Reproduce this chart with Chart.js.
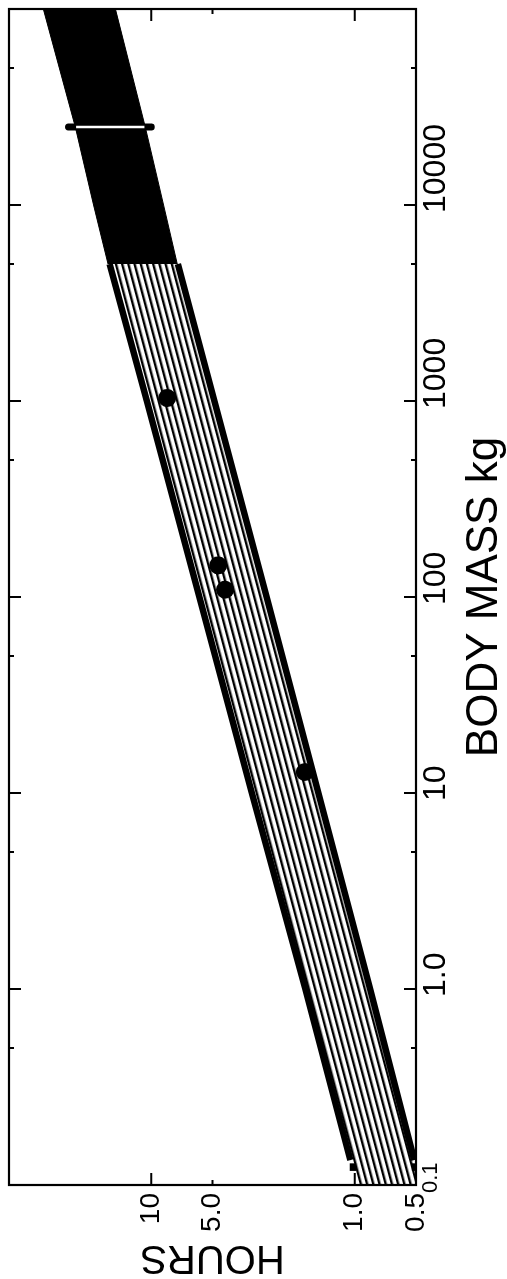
<!DOCTYPE html>
<html><head><meta charset="utf-8">
<script src="https://cdn.jsdelivr.net/npm/chart.js@4.4.1/dist/chart.umd.min.js"></script>
<style>
html,body{margin:0;padding:0;background:#fff;overflow:hidden;width:507px;height:1279px;}
#wrap{position:absolute;left:-386px;top:386px;width:1279px;height:507px;transform:rotate(-90deg);transform-origin:50% 50%;background:#fff;}
canvas{display:block}
</style></head><body>
<div id="wrap"><canvas id="c" width="1279" height="507"></canvas></div>
<script>
// ---- axis ticks ----
const massTicks = [0.1, 1, 10, 100, 1000, 10000];
const massTickLabels = ['0.1', '1.0', '10', '100', '1000', '10000'];
const massMinorMarks = [0.5, 5, 50, 500, 5000, 50000];
const hourTicks = [0.5, 1, 5, 10];
const hourTickLabels = ['0.5', '1.0', '5.0', '10'];
const hourMajorMarks = [1, 10];
const hourMinorMarks = [5];
// ---- hatched band (line centres) ----
const bandMass  = [0.1, 0.134, 1, 10, 100, 1000, 5000];
const bandUpper = [0.97, 1.05, 1.75, 3.2, 5.8, 10.5, 16.0];
const bandLower = [0.475, 0.51, 0.84, 1.51, 2.71, 4.9, 7.4];
// ---- small break dashes at the low end ----
const breakMass  = [0.118, 0.129];
const breakUpper = [1.02, 1.02];
const breakLower = [0.505, 0.505];
// ---- solid black extension ----
const solidMass  = [5000, 10000, 25000, 100000];
const solidUpper = [16.3, 19.2, 23.6, 33.9];
const solidLower = [7.45, 8.7, 10.7, 15.0];
// ---- marker across the solid band ----
const markMass = [25000, 25000];
const markBlack = [10.0, 25.5];
const markWhite = [10.8, 23.4];
// ---- observed points ----
const dotMass  = [12.8, 109, 145, 1036];
const dotHours = [1.76, 4.34, 4.69, 8.35];

const pts = (xs, ys) => xs.map((x, i) => ({x: x, y: ys[i]}));
const TICKFONT = "'Liberation Sans Narrow', 'Liberation Sans', Arial, sans-serif";
const TITLEFONT = "'Liberation Sans', Arial, sans-serif";

const base = {pointRadius: 0, borderColor: '#000', tension: 0, fill: false};

const framePlugin = {
  id: 'frame',
  afterDraw(chart) {
    const {ctx, chartArea: {left, right, top, bottom}, scales: {x, y}} = chart;
    ctx.save();
    ctx.strokeStyle = '#000';
    ctx.lineWidth = 2.2;
    ctx.strokeRect(left, top, right - left, bottom - top);
    ctx.lineWidth = 2;
    ctx.beginPath();
    const xm = (v, len) => { const p = x.getPixelForValue(v); ctx.moveTo(p, bottom); ctx.lineTo(p, bottom - len); ctx.moveTo(p, top); ctx.lineTo(p, top + len); };
    const ym = (v, len) => { const p = y.getPixelForValue(v); ctx.moveTo(left, p); ctx.lineTo(left + len, p); ctx.moveTo(right, p); ctx.lineTo(right - len, p); };
    massTicks.forEach(v => xm(v, 12));
    massMinorMarks.forEach(v => xm(v, 5));
    hourMajorMarks.forEach(v => ym(v, 12));
    hourMinorMarks.forEach(v => ym(v, 5));
    ctx.stroke();
    ctx.restore();
  }
};

const config = {
  type: 'line',
  data: {
    datasets: [
      Object.assign({}, base, {data: pts(bandMass, bandUpper), borderWidth: 0, fill: 1, backgroundColor: '#888', order: 5}),
      Object.assign({}, base, {data: pts(bandMass, bandLower), borderWidth: 0, order: 5}),
      Object.assign({}, base, {data: pts(solidMass, solidUpper), borderWidth: 1, fill: 3, backgroundColor: '#000', order: 6}),
      Object.assign({}, base, {data: pts(solidMass, solidLower), borderWidth: 1, order: 6}),
      Object.assign({}, base, {data: pts(bandMass.slice(1), bandUpper.slice(1)), borderWidth: 6.5, order: 3}),
      Object.assign({}, base, {data: pts(bandMass.slice(1), bandLower.slice(1)), borderWidth: 6.5, order: 3}),
      Object.assign({}, base, {data: pts(breakMass, breakUpper), borderWidth: 6.5, order: 3}),
      Object.assign({}, base, {data: pts(breakMass, breakLower), borderWidth: 6.5, order: 3}),
      Object.assign({}, base, {data: pts(markMass, markBlack), borderWidth: 7, borderCapStyle: 'round', order: 2}),
      Object.assign({}, base, {data: pts(markMass, markWhite), borderWidth: 2.5, borderColor: '#fff', order: 1}),
      {data: pts(dotMass, dotHours), showLine: false, pointRadius: 9, pointBackgroundColor: '#000', pointBorderWidth: 0, pointBorderColor: '#000', order: 0}
    ]
  },
  options: {
    responsive: false,
    animation: false,
    devicePixelRatio: 1,
    layout: {padding: {top: 7, right: 5, left: 0, bottom: 0}},
    plugins: {legend: {display: false}, tooltip: {enabled: false}},
    events: [],
    scales: {
      x: {
        type: 'logarithmic', position: 'bottom', min: 0.1, max: 100000,
        grid: {display: false, drawTicks: false}, border: {display: false},
        afterBuildTicks: s => { s.ticks = massTicks.map(v => ({value: v})); },
        afterFit: s => { s.height = 91; s.paddingLeft = 0; s.paddingRight = 0; },
        ticks: {
          autoSkip: false, maxRotation: 0, minRotation: 0, color: '#000', padding: 4, align: 'start', labelOffset: -8,
          font: c => ({family: TICKFONT, size: (c.index === 0 ? 22 : 32), lineHeight: 1}),
          callback: (v) => { const i = massTicks.indexOf(v); return i >= 0 ? massTickLabels[i] : ''; }
        },
        title: {display: true, text: 'BODY MASS kg', color: '#000', font: {family: TITLEFONT, size: 44, lineHeight: 1}, padding: {top: 0, bottom: 0}}
      },
      y: {
        type: 'logarithmic', position: 'left', min: 0.5, max: 50,
        grid: {display: false, drawTicks: false}, border: {display: false},
        afterBuildTicks: s => { s.ticks = hourTicks.map(v => ({value: v})); },
        afterFit: s => { s.width = 94; s.paddingTop = 0; s.paddingBottom = 0; },
        ticks: {
          autoSkip: false, color: '#000', padding: 8,
          font: {family: TICKFONT, size: 28, lineHeight: 1},
          callback: (v) => { const i = hourTicks.indexOf(v); return i >= 0 ? hourTickLabels[i] : ''; }
        },
        title: {display: true, text: 'HOURS', color: '#000', font: {family: TITLEFONT, size: 40, lineHeight: 1}, padding: {top: 2, bottom: 0}}
      }
    }
  },
  plugins: [framePlugin]
};

const cvs = document.getElementById('c');
const chart = new Chart(cvs.getContext('2d'), config);

function makeHatch(angleDeg) {
  const t = document.createElement('canvas');
  t.width = 8; t.height = 6;
  const g = t.getContext('2d');
  g.fillStyle = '#fff'; g.fillRect(0, 0, 8, 6);
  g.fillStyle = '#000'; g.fillRect(0, 0, 8, 2.4);
  const p = chart.ctx.createPattern(t, 'repeat');
  p.setTransform(new DOMMatrix().rotate(angleDeg));
  return p;
}
const xs = chart.scales.x, ys = chart.scales.y;
const i0 = 1, i1 = bandMass.length - 1;
const dx = xs.getPixelForValue(bandMass[i1]) - xs.getPixelForValue(bandMass[i0]);
const aU = Math.atan2(ys.getPixelForValue(bandUpper[i1]) - ys.getPixelForValue(bandUpper[i0]), dx);
const aL = Math.atan2(ys.getPixelForValue(bandLower[i1]) - ys.getPixelForValue(bandLower[i0]), dx);
chart.data.datasets[0].backgroundColor = makeHatch((aU + aL) / 2 * 180 / Math.PI);
chart.update('none');
</script>
</body></html>
